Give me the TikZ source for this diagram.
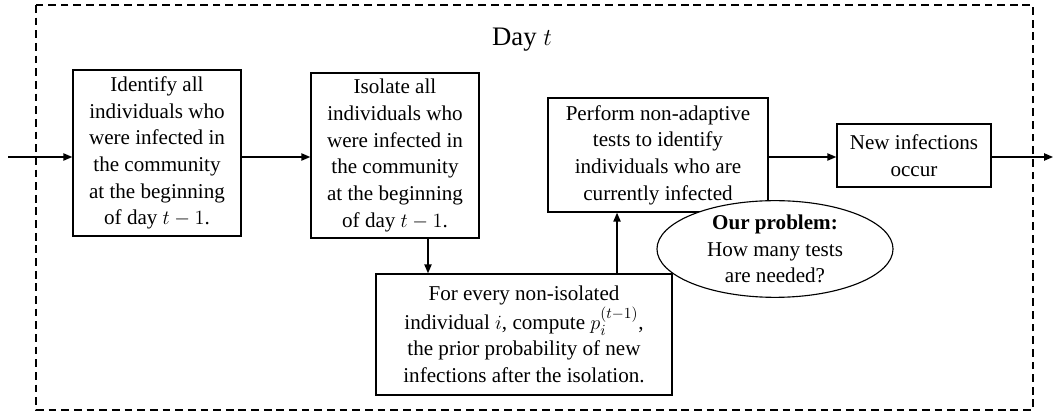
\documentclass[tikz,border=0pt]{standalone}
\usepackage{fontspec}
\setmainfont{Liberation Serif}
\usepackage{amsmath}
\usetikzlibrary{positioning,shapes.geometric,arrows.meta}

\begin{document}
\begin{tikzpicture}[
			x=0.025cm, y=-0.025cm,
			% 有边框的长方形
			squarednode/.style={rectangle, draw=black, line width=1pt, fill=white, align=center, inner sep=2pt, font=\fontsize{15}{19}\selectfont},
			% 椭圆,白色填充
			ellipsenode/.style={ellipse, draw=black, line width=0.8pt, fill=white, align=center, inner sep=0pt, minimum width=5.9cm, minimum height=2.3cm, font=\fontsize{15}{19}\selectfont},
			% 看不见的点,用来连接线
			point/.style={coordinate},
			flow/.style={-{Triangle[length=2.2mm,width=1.8mm]}, line width=0.9pt}
		]
		\useasboundingbox (0,0) rectangle (1053,418);
		% 虚线外框
		\draw[dash pattern=on 5.5pt off 3.5pt, line width=0.9pt] (36,5) rectangle (1033,410);
		\node[font=\fontsize{19}{22}\selectfont] (day) at (522,40) {Day $t$};

		%Nodes
		\node[squarednode, minimum width=4.2cm, minimum height=4.15cm] (identify) at (157,153)
			{Identify all\\individuals who\\were infected in\\the community\\at the beginning\\of day $t-1$.};
		\node[squarednode, minimum width=4.2cm, minimum height=4.125cm] (isolate)  at (395,155.5)
			{Isolate all\\individuals who\\were infected in\\the community\\at the beginning\\of day $t-1$.};
		\node[squarednode, minimum width=7.4cm, minimum height=3.025cm] (prior)    at (524,334.5)
			{For every non-isolated\\individual $i$, compute $p_i^{(t-1)}$,\\the prior probability of new\\infections after the isolation.};
		\node[squarednode, minimum width=5.5cm, minimum height=2.85cm]  (perform)  at (658,155)
			{Perform non-adaptive\\tests to identify\\individuals who are\\currently infected};
		\node[squarednode, minimum width=3.85cm, minimum height=1.575cm] (newinf)  at (914,155.5)
			{New infections\\occur};
		% 椭圆盖在方框上面
		\node[ellipsenode] (problem) at (775,249)
			{\textbf{Our problem:}\\How many tests\\are needed?};
		\node[point] (point1) at (8,157) {};
		\node[point] (point2) at (1053,157) {};

		%Lines
		\draw[flow] (point1)                   --   (point1 -| identify.west);
		\draw[flow] (identify.east |- point1)  --   (isolate.west |- point1);
		\draw[flow] ([xshift=0.825cm]isolate.south) -- ([xshift=0.825cm]isolate.south |- prior.north);
		\draw[flow] ([xshift=2.325cm]prior.north)   -- ([xshift=2.325cm]prior.north |- perform.south);
		\draw[flow] (perform.east |- point1)   --   (newinf.west |- point1);
		\draw[flow] (newinf.east |- point1)    --   (point2);
	\end{tikzpicture}
\end{document}
